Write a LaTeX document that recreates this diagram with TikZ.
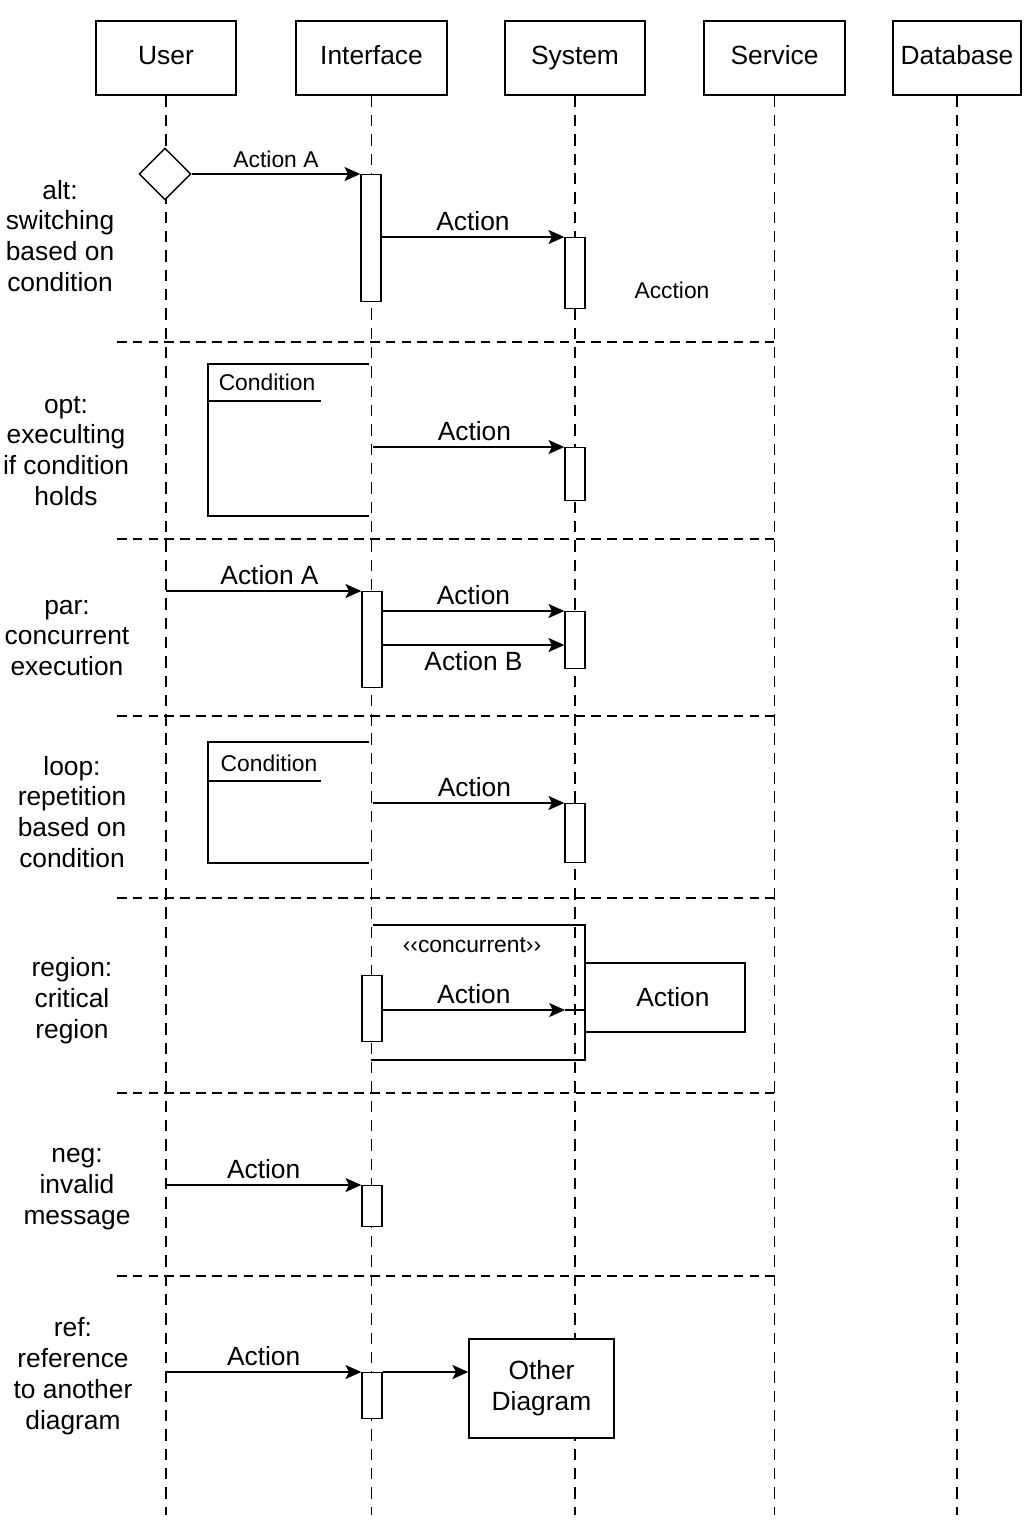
\documentclass[tikz,border=0pt]{standalone}
\usepackage{fontspec}
\setmainfont{Liberation Sans}
\usetikzlibrary{shapes.geometric, arrows.meta}

\begin{document}
\begin{tikzpicture}[x=0.02cm, y=-0.02cm, line width=0.8pt,
  every node/.style={font=\fontsize{15}{17.6}\selectfont},
  small/.style={font=\fontsize{13}{15}\selectfont},
  head/.style={draw, minimum height=1.48cm, inner sep=0pt, text height=0.72em, text depth=0em},
  act/.style={draw, fill=white, minimum width=0.4cm, inner sep=0pt, anchor=north},
  box/.style={draw, fill=white, inner sep=0pt, align=center},
  life/.style={line width=0.6pt, dash pattern=on 6.5pt off 4.5pt},
  sep/.style={line width=0.9pt, dash pattern=on 5.5pt off 3.5pt},
  msg/.style={-{Stealth[length=9pt, width=8pt, inset=2pt]}},
  side/.style={align=center}]
\useasboundingbox (0,0) rectangle (1024,1536);
% Draw heads
\node[head, minimum width=2.8cm] (usr) at (166,58) {User};
\node[head, minimum width=3.02cm] (ifc) at (371.5,58) {Interface};
\node[head, minimum width=2.8cm] (sys) at (575,58) {System};
\node[head, minimum width=2.82cm] (srv) at (774.5,58) {Service};
\node[head, minimum width=2.56cm] (db) at (957,58) {Database};
% Draw lifelines
\foreach \h in {usr,ifc,sys,srv,db}
    \draw[life] (\h.south) -- (\h.south |- 0,1515);
% Draw separators
\foreach \y in {342,539,716,898,1093,1276}
    \draw[sep] (117,\y) -- (774,\y);
% Draw side labels
\node[side] (altlbl) at (60,236) {alt:\\switching\\based on\\condition};
\node[side] (optlbl) at (66,451) {opt:\\execulting\\if condition\\holds};
\node[side] (parlbl) at (67,638) {par:\\concurrent\\execution};
\node[side] (looplbl) at (72,812) {loop:\\repetition\\based on\\condition};
\node[side] (reglbl) at (72,1001) {region:\\critical\\region};
\node[side] (neglbl) at (77,1189) {neg:\\invalid\\message};
\node[side] (reflbl) at (73,1376) {ref:\\reference\\to another\\diagram};

% alt
\node[draw, diamond, fill=white, minimum width=1.04cm, minimum height=1.04cm, inner sep=0pt] (dia) at (165,174) {};
\node[act, minimum height=2.54cm] (a1) at (371,174) {};
\node[act, minimum height=1.42cm] (s1) at (575,237) {};
\draw[msg] (dia.east) -- node[small, above] {Action A} (a1.north west);
\draw[msg] (a1.east |- s1.north) -- node[above] {Action} (s1.north west);
\node[small] (acc) at (672,290) {Acction};

% opt
\draw (369,364) -- (208,364) -- (208,516) -- (369,516);
\draw (208,401) -- (321,401);
\node[small] (cnd1) at (267,382) {Condition};
\node[act, minimum height=1.06cm] (s2) at (575,447) {};
\coordinate (o1) at (373,447);
\draw[msg] (o1) -- node[above, pos=0.53] {Action} (s2.north west);

% par
\node[act, minimum height=1.92cm] (a3) at (372,591) {};
\node[act, minimum height=1.14cm] (s3) at (575,611) {};
\draw[msg] (usr.south |- a3.north) -- node[above, pos=0.53] {Action A} (a3.north west);
\draw[msg] (a3.east |- s3.north) -- node[above] {Action} (s3.north west);
\draw[msg] (a3.east |- 0,645) -- node[below] {Action B} (s3.west |- 0,645);

% loop
\draw (369,742) -- (208,742) -- (208,863) -- (369,863);
\draw (208,781) -- (321,781);
\node[small] (cnd2) at (269,763) {Condition};
\node[act, minimum height=1.18cm] (s4) at (575,803) {};
\coordinate (l1) at (373,803);
\draw[msg] (l1) -- node[above, pos=0.53] {Action} (s4.north west);

% region
\draw (373,925) -- (585,925) -- (585,1060) -- (371,1060);
\node[small] (conc) at (472,945) {‹‹concurrent››};
\node[box, minimum width=3.2cm, minimum height=1.38cm] (rbox) at (665,997.5) {\hspace{9pt}Action};
\node[act, minimum height=1.32cm] (a5) at (372,975) {};
\coordinate (r1) at (565,1010);
\draw[msg] (a5.east |- r1) -- node[above] {Action} (r1);
\draw (r1) -- (r1 -| rbox.west);

% neg
\node[act, minimum height=0.82cm] (a6) at (372,1185) {};
\draw[msg] (usr.south |- a6.north) -- node[above] {Action} (a6.north west);

% ref
\node[box, minimum width=2.9cm, minimum height=1.98cm] (odg) at (541.5,1388.5) {Other\\Diagram};
\node[act, minimum height=0.92cm] (a7) at (372,1372) {};
\draw[msg] (usr.south |- a7.north) -- node[above] {Action} (a7.north west);
\draw[msg] (a7.north east) -- (odg.west |- a7.north);
\end{tikzpicture}
\end{document}
